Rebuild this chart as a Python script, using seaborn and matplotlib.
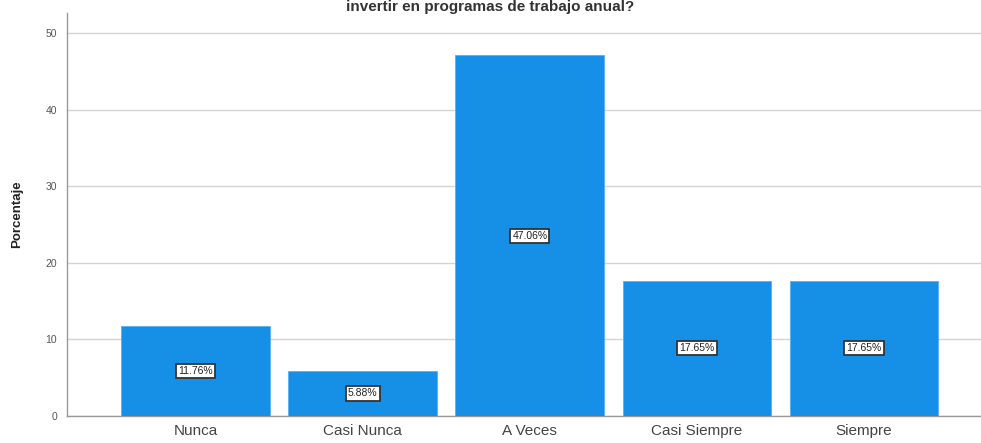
import matplotlib
matplotlib.use("Agg")
import matplotlib.pyplot as plt
import seaborn as sns
import pandas as pd

categories = ["Nunca", "Casi Nunca", "A Veces", "Casi Siempre", "Siempre"]
values = [11.76, 5.88, 47.06, 17.65, 17.65]
labels = ["11.76%", "5.88%", "47.06%", "17.65%", "17.65%"]
yticks = [0, 10, 20, 30, 40, 50]
title = "invertir en programas de trabajo anual?"

sns.set_style("white")
plt.rcParams['font.family'] = ['Liberation Sans', 'DejaVu Sans']

df = pd.DataFrame({"cat": categories, "val": values})

W, H = 981, 443
fig = plt.figure(figsize=(W / 100, H / 100), dpi=100)
ax = fig.add_axes([67 / W, (H - 416) / H, (W - 67) / W, (416 - 13) / H])

sns.barplot(data=df, x="cat", y="val", color="#1590e6", saturation=1,
            width=0.89, ax=ax, edgecolor="#5aaef0", linewidth=0.6, zorder=3)

ax.set_ylim(0, 52.6)
ax.set_xlim(-0.77, 4.70)
ax.set_yticks(yticks)
ax.set_yticklabels([str(t) for t in yticks], fontsize=7.5, color="#555555")
ax.tick_params(axis="x", labelsize=11, colors="#444444", length=0, pad=6)
ax.tick_params(axis="y", length=0, pad=7)
ax.yaxis.grid(True, color="#d4d4d4", linewidth=1, zorder=0)
ax.set_axisbelow(True)
for s in ["top", "right"]:
    ax.spines[s].set_visible(False)
ax.spines["left"].set_color("#999999")
ax.spines["bottom"].set_color("#999999")
ax.spines["left"].set_linewidth(1)
ax.spines["bottom"].set_linewidth(1)
ax.set_xlabel("")
ax.set_ylabel("Porcentaje", fontsize=9.5, fontweight="bold", color="#222222", labelpad=16)

for i, (v, lab) in enumerate(zip(values, labels)):
    ax.text(i, v / 2, lab, ha="center", va="center", fontsize=7.5, color="#222222", zorder=5,
            bbox=dict(boxstyle="square,pad=0.2", facecolor="white", edgecolor="#333333", linewidth=1.3))

fig.text(0.5, 0.999, title, ha="center", va="top", fontsize=11, fontweight="bold", color="#333333")

fig.savefig("out.png", dpi=100)
